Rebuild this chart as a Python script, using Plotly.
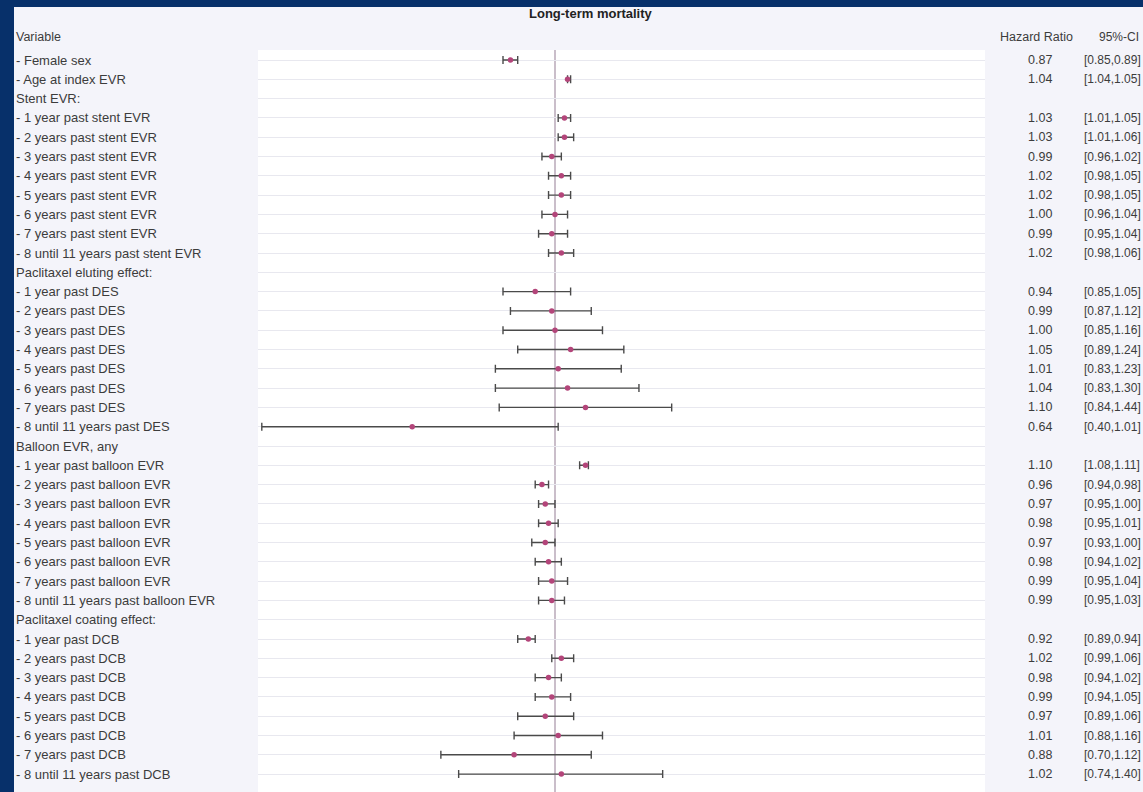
import plotly.graph_objects as go

W, H = 1143, 792

# Forest plot rows (None = section header without an estimate)
labels = [
    "- Female sex", "- Age at index EVR",
    "Stent EVR:",
    "- 1 year past stent EVR", "- 2 years past stent EVR", "- 3 years past stent EVR",
    "- 4 years past stent EVR", "- 5 years past stent EVR", "- 6 years past stent EVR",
    "- 7 years past stent EVR", "- 8 until 11 years past stent EVR",
    "Paclitaxel eluting effect:",
    "- 1 year past DES", "- 2 years past DES", "- 3 years past DES", "- 4 years past DES",
    "- 5 years past DES", "- 6 years past DES", "- 7 years past DES",
    "- 8 until 11 years past DES",
    "Balloon EVR, any",
    "- 1 year past balloon EVR", "- 2 years past balloon EVR", "- 3 years past balloon EVR",
    "- 4 years past balloon EVR", "- 5 years past balloon EVR", "- 6 years past balloon EVR",
    "- 7 years past balloon EVR", "- 8 until 11 years past balloon EVR",
    "Paclitaxel coating effect:",
    "- 1 year past DCB", "- 2 years past DCB", "- 3 years past DCB", "- 4 years past DCB",
    "- 5 years past DCB", "- 6 years past DCB", "- 7 years past DCB",
    "- 8 until 11 years past DCB",
]
hr = [0.87, 1.04,
      None, 1.03, 1.03, 0.99, 1.02, 1.02, 1.00, 0.99, 1.02,
      None, 0.94, 0.99, 1.00, 1.05, 1.01, 1.04, 1.10, 0.64,
      None, 1.10, 0.96, 0.97, 0.98, 0.97, 0.98, 0.99, 0.99,
      None, 0.92, 1.02, 0.98, 0.99, 0.97, 1.01, 0.88, 1.02]
ci_lo = [0.85, 1.04,
         None, 1.01, 1.01, 0.96, 0.98, 0.98, 0.96, 0.95, 0.98,
         None, 0.85, 0.87, 0.85, 0.89, 0.83, 0.83, 0.84, 0.40,
         None, 1.08, 0.94, 0.95, 0.95, 0.93, 0.94, 0.95, 0.95,
         None, 0.89, 0.99, 0.94, 0.94, 0.89, 0.88, 0.70, 0.74]
ci_hi = [0.89, 1.05,
         None, 1.05, 1.06, 1.02, 1.05, 1.05, 1.04, 1.04, 1.06,
         None, 1.05, 1.12, 1.16, 1.24, 1.23, 1.30, 1.44, 1.01,
         None, 1.11, 0.98, 1.00, 1.01, 1.00, 1.02, 1.04, 1.03,
         None, 0.94, 1.06, 1.02, 1.05, 1.06, 1.16, 1.12, 1.40]

rows = list(range(1, len(labels) + 1))
pts = [(r, h, lo, hi) for r, h, lo, hi in zip(rows, hr, ci_lo, ci_hi) if h is not None]

TEXT = "#3c3c3c"
FONT = "Liberation Sans, Arial, sans-serif"

fig = go.Figure()

fig.add_trace(go.Scatter(
    x=[p[1] for p in pts],
    y=[p[0] for p in pts],
    mode="markers",
    marker=dict(color="#b3457a", size=5.5),
    error_x=dict(
        type="data", symmetric=False,
        array=[p[3] - p[1] for p in pts],
        arrayminus=[p[1] - p[2] for p in pts],
        color="#4a4a4a", thickness=1.4, width=4,
    ),
    hoverinfo="skip",
    showlegend=False,
    cliponaxis=False,
))

# plot geometry (pixels)
x_left, x_right, y_top = 258, 985, 50
x_one, px_per_dec = 555, 736.8
row0_px, row_step = 60, 19.3

y_range_top = 1 - (row0_px - y_top) / row_step
y_range_bot = 1 + (H - row0_px) / row_step

fig.update_layout(
    width=W, height=H,
    margin=dict(l=0, r=0, t=0, b=0),
    paper_bgcolor="#f4f4fa",
    plot_bgcolor="#ffffff",
    font=dict(family=FONT, color=TEXT, size=12),
    xaxis=dict(
        type="log",
        domain=[x_left / W, x_right / W],
        range=[(x_left - x_one) / px_per_dec, (x_right - x_one) / px_per_dec],
        showgrid=False, zeroline=False, showline=False,
        showticklabels=False, ticks="",
    ),
    yaxis=dict(
        domain=[0, 1 - y_top / H],
        range=[y_range_bot, y_range_top],
        tickvals=rows,
        showgrid=True, gridcolor="#e8e8ef", gridwidth=1,
        zeroline=False, showline=False,
        showticklabels=False, ticks="",
    ),
)

# reference line at HR = 1
fig.add_shape(type="line", xref="x", yref="paper", x0=1, x1=1,
              y0=0, y1=1 - y_top / H,
              line=dict(color="#b8a8b8", width=1.5), layer="below")

# dark frame strips
fig.add_shape(type="rect", xref="paper", yref="paper", x0=0, x1=1,
              y0=1 - 7 / H, y1=1, fillcolor="#07306a", line_width=0, layer="above")
fig.add_shape(type="rect", xref="paper", yref="paper", x0=0, x1=14 / W,
              y0=0, y1=1, fillcolor="#07306a", line_width=0, layer="above")

ann = []
for r, lab in zip(rows, labels):
    ann.append(dict(x=14 / W, xref="paper", y=r, yref="y", text=lab,
                    xanchor="left", yanchor="middle", showarrow=False,
                    font=dict(size=13, color=TEXT)))
for r, h, lo, hi in pts:
    ann.append(dict(x=1054 / W, xref="paper", y=r, yref="y", text=f"{h:.2f}",
                    xanchor="right", yanchor="middle", showarrow=False,
                    font=dict(size=12.5, color=TEXT)))
    ann.append(dict(x=1082 / W, xref="paper", y=r, yref="y",
                    text=f"[{lo:.2f},{hi:.2f}]",
                    xanchor="left", yanchor="middle", showarrow=False,
                    font=dict(size=12, color=TEXT)))

hdr_y = 1 - 37 / H
ann += [
    dict(x=14 / W, xref="paper", y=hdr_y, yref="paper", text="Variable",
         xanchor="left", yanchor="middle", showarrow=False, font=dict(size=12.5, color=TEXT)),
    dict(x=1036 / W, xref="paper", y=hdr_y, yref="paper", text="Hazard Ratio",
         xanchor="center", yanchor="middle", showarrow=False, font=dict(size=12.5, color=TEXT)),
    dict(x=1097 / W, xref="paper", y=hdr_y, yref="paper", text="95%-CI",
         xanchor="left", yanchor="middle", showarrow=False, font=dict(size=12, color=TEXT)),
    dict(x=591 / W, xref="paper", y=1 - 14 / H, yref="paper",
         text="<b>Long-term mortality</b>",
         xanchor="center", yanchor="middle", showarrow=False,
         font=dict(size=13, color="#222222")),
]
fig.update_layout(annotations=ann)

fig.write_html("out.html")
